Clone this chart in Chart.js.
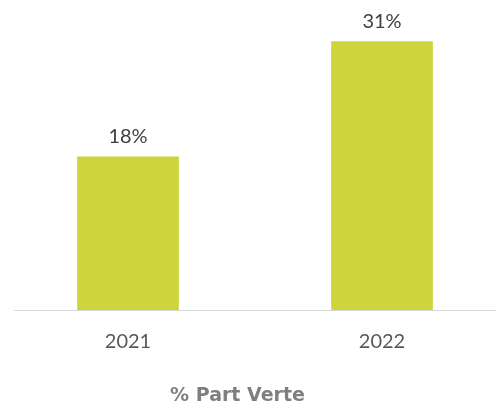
<!DOCTYPE html>
<html>
<head>
<meta charset="utf-8">
<script src="https://cdn.jsdelivr.net/npm/chart.js@4.4.1/dist/chart.umd.min.js"></script>
<style>
  html, body { margin: 0; padding: 0; background: #fff; overflow: hidden; }
  #wrap { width: 496px; height: 405px; }
</style>
</head>
<body>
<div id="wrap"><canvas id="chart" width="496" height="405"></canvas></div>
<script>
// data
const years = ['2021', '2022'];
const greenShare = [17.7, 31.0];
const chartTitle = '% Part Verte';

// value labels over the bars
const barLabels = {
    id: 'barLabels',
    afterDatasetsDraw(chart) {
        const ctx = chart.ctx;
        const meta = chart.getDatasetMeta(0);
        ctx.save();
        ctx.font = '20px Lato';
        ctx.fillStyle = '#404040';
        ctx.textAlign = 'center';
        ctx.textBaseline = 'alphabetic';
        meta.data.forEach((bar, i) => {
            ctx.fillText(Math.round(greenShare[i]) + '%', bar.x, bar.y - 14);
        });
        ctx.restore();
    }
};

// title under the axis
const bottomTitle = {
    id: 'bottomTitle',
    afterDraw(chart) {
        const ctx = chart.ctx;
        ctx.save();
        ctx.font = 'bold 19px "DejaVu Sans"';
        ctx.fillStyle = '#7f7f7f';
        ctx.textAlign = 'center';
        ctx.textBaseline = 'alphabetic';
        ctx.fillText(chartTitle, 237.5, 400.5);
        ctx.restore();
    }
};

const ctx = document.getElementById('chart').getContext('2d');

const chart = new Chart(ctx, {
    type: 'bar',
    data: {
        datasets: [{
            data: greenShare.map((v, i) => ({ x: i, y: v })),
            backgroundColor: '#CDD53B',
            borderWidth: 0,
            barThickness: 101
        }]
    },
    options: {
        responsive: false,
        animation: false,
        layout: { padding: { top: 7, left: 14, right: 0, bottom: 0 } },
        scales: {
            x: {
                type: 'linear',
                offset: false,
                min: -0.4488,
                max: 1.4488,
                grid: { display: false, drawTicks: false },
                border: { display: true, color: '#d9d9d9', width: 1 },
                afterBuildTicks: (scale) => {
                    scale.ticks = years.map((y, i) => ({ value: i }));
                },
                afterFit: (scale) => { scale.height = 95; },
                ticks: {
                    padding: 20,
                    color: '#595959',
                    font: { family: 'Lato', size: 20 },
                    callback: (v) => years[v]
                }
            },
            y: {
                display: false,
                min: 0,
                max: 35
            }
        },
        plugins: {
            legend: { display: false },
            tooltip: { enabled: false }
        }
    },
    plugins: [barLabels, bottomTitle]
});
</script>
</body>
</html>
